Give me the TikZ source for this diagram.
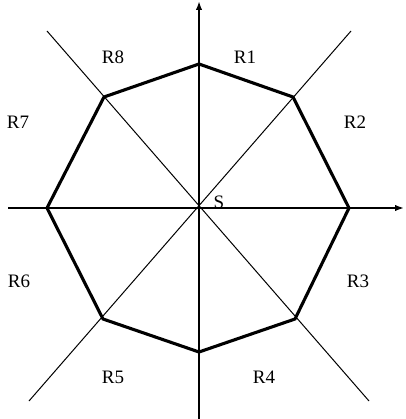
\documentclass[tikz,border=0pt]{standalone}
\usepackage{fontspec}
\setmainfont{Liberation Serif}
\usetikzlibrary{arrows.meta}
\begin{document}
\begin{tikzpicture}[x=1pt,y=-1pt,
  axis/.style={line width=2pt,-{Latex[length=9pt,width=6.5pt]}},
  ray/.style={line width=1pt},
  oct/.style={line width=3.1pt,line join=miter},
  lbl/.style={font=\fontsize{19}{19}\selectfont,inner sep=0pt}]
\useasboundingbox (0,0) rectangle (405,419);
% centre and axis ends
\coordinate (O) at (199,208);
\coordinate (xl) at (8,208);
\coordinate (xr) at (404,208);
\coordinate (yb) at (199,419);
\coordinate (yt) at (199,1);
% diagonal ends
\coordinate (dtl) at (47,31);
\coordinate (dtr) at (351,31);
\coordinate (dbl) at (29,401);
\coordinate (dbr) at (369,401);
% octagon vertices
\coordinate (v1) at (199,64);
\coordinate (v2) at (293,97);
\coordinate (v3) at (349,208);
\coordinate (v4) at (295,319);
\coordinate (v5) at (199,352);
\coordinate (v6) at (103,319);
\coordinate (v7) at (47,208);
\coordinate (v8) at (104,97);
% diagonals
\draw[ray] (dtl) -- (dbr);
\draw[ray] (dtr) -- (dbl);
% octagon
\draw[oct] (v1) -- (v2) -- (v3) -- (v4) -- (v5) -- (v6) -- (v7) -- (v8) -- cycle;
% axes
\draw[axis] (xl) -- (xr);
\draw[axis] (yb) -- (yt);
% labels
\node[lbl] (S) at (219,202) {S};
\node[lbl] (R1) at (245,57) {R1};
\node[lbl] (R2) at (355,122) {R2};
\node[lbl] (R3) at (358,281) {R3};
\node[lbl] (R4) at (264,377) {R4};
\node[lbl] (R5) at (113,377) {R5};
\node[lbl] (R6) at (19,281) {R6};
\node[lbl] (R7) at (18,122) {R7};
\node[lbl] (R8) at (113,57) {R8};
\end{tikzpicture}
\end{document}
